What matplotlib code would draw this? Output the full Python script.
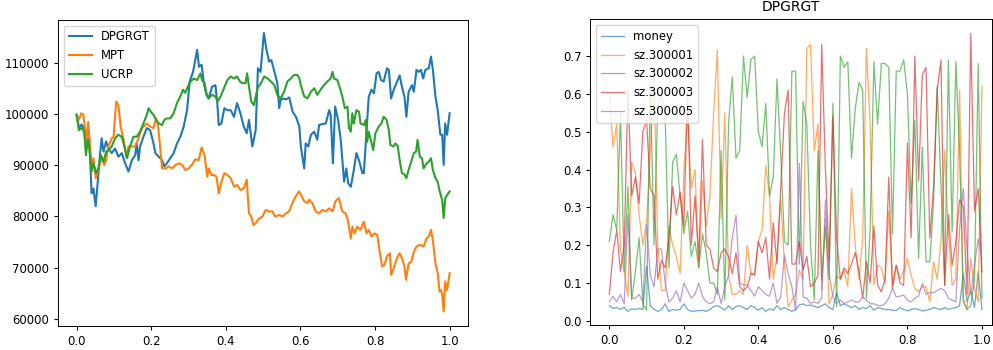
import numpy as np
import matplotlib
matplotlib.use("Agg")
import matplotlib.pyplot as plt

# ---------------- left panel: portfolio value ----------------
dp_x = [0, 0.006, 0.013, 0.022, 0.029, 0.034, 0.040, 0.045, 0.051, 0.057, 0.063, 0.067, 0.072, 0.079,
        0.085, 0.094, 0.103, 0.112, 0.121, 0.130, 0.139, 0.148, 0.157, 0.161, 0.166, 0.170, 0.179, 0.188,
        0.197, 0.206, 0.211, 0.220, 0.229, 0.235, 0.242, 0.251, 0.260, 0.269, 0.278, 0.287, 0.296, 0.303,
        0.312, 0.323, 0.328, 0.335, 0.341, 0.348, 0.354, 0.363, 0.372, 0.377, 0.381, 0.388, 0.396, 0.404,
        0.413, 0.422, 0.430, 0.439, 0.448, 0.456, 0.462, 0.471, 0.480, 0.486, 0.493, 0.502, 0.509, 0.516,
        0.522, 0.529, 0.538, 0.543, 0.547, 0.552, 0.561, 0.570, 0.579, 0.588, 0.597, 0.601, 0.610, 0.614,
        0.621, 0.628, 0.637, 0.645, 0.650, 0.659, 0.668, 0.677, 0.681, 0.687, 0.693, 0.701, 0.708, 0.717,
        0.723, 0.728, 0.735, 0.743, 0.750, 0.757, 0.766, 0.770, 0.777, 0.783, 0.790, 0.797, 0.804, 0.810,
        0.816, 0.823, 0.832, 0.837, 0.843, 0.850, 0.859, 0.866, 0.872, 0.879, 0.884, 0.890, 0.899, 0.904,
        0.911, 0.917, 0.923, 0.929, 0.935, 0.944, 0.950, 0.955, 0.962, 0.968, 0.975, 0.980, 0.984, 0.988,
        0.993, 1.0]
dp_y = [99900, 97300, 98000, 97000, 94300, 95300, 84500, 85500, 82000, 87200, 92400, 95300, 92700, 94700,
        93300, 92400, 93300, 91700, 92400, 90400, 88800, 91000, 92000, 94300, 91000, 93700, 95600, 97300,
        96900, 94300, 92400, 91700, 91000, 89800, 90400, 91400, 92400, 94300, 95600, 97600, 100800, 106400,
        108300, 112600, 109300, 109700, 106100, 103800, 103100, 105400, 105700, 102200, 97900, 98200, 101200, 100800,
        100800, 99500, 102200, 100200, 97600, 96300, 98900, 93700, 96900, 109000, 108300, 115900, 112600, 110300,
        110600, 108700, 106100, 101200, 102800, 103100, 102900, 103300, 100500, 99500, 97600, 93700, 89400, 94300,
        93700, 96000, 96600, 95000, 97900, 98100, 98200, 100800, 99900, 90400, 101500, 98900, 95000, 86800,
        89400, 86500, 85800, 89100, 92400, 91000, 88500, 88500, 96600, 103400, 104800, 104100, 108000, 108300,
        106700, 106400, 109000, 108700, 103100, 104800, 106400, 107600, 105400, 103400, 99500, 104400, 105700, 104400,
        108700, 108300, 108700, 107000, 108700, 109000, 111300, 108700, 103400, 100800, 96000, 96000, 90100, 98200,
        96000, 100200]

mpt_x = [0, 0.006, 0.012, 0.018, 0.022, 0.027, 0.031, 0.036, 0.040, 0.045, 0.051, 0.057, 0.063, 0.067,
         0.074, 0.079, 0.085, 0.094, 0.099, 0.106, 0.112, 0.118, 0.126, 0.133, 0.139, 0.148, 0.157, 0.166,
         0.175, 0.188, 0.197, 0.206, 0.213, 0.218, 0.222, 0.229, 0.238, 0.247, 0.256, 0.265, 0.274, 0.283,
         0.291, 0.300, 0.309, 0.318, 0.327, 0.335, 0.343, 0.350, 0.354, 0.361, 0.368, 0.375, 0.381, 0.387,
         0.396, 0.404, 0.413, 0.422, 0.430, 0.439, 0.448, 0.456, 0.462, 0.468, 0.474, 0.480, 0.489, 0.498,
         0.507, 0.516, 0.525, 0.532, 0.543, 0.552, 0.561, 0.570, 0.578, 0.587, 0.596, 0.601, 0.610, 0.619,
         0.623, 0.632, 0.641, 0.650, 0.659, 0.668, 0.677, 0.686, 0.694, 0.703, 0.712, 0.721, 0.727, 0.735,
         0.739, 0.745, 0.752, 0.761, 0.770, 0.777, 0.783, 0.790, 0.799, 0.806, 0.813, 0.819, 0.825, 0.832,
         0.840, 0.843, 0.850, 0.859, 0.866, 0.872, 0.879, 0.883, 0.890, 0.897, 0.904, 0.911, 0.917, 0.923,
         0.930, 0.938, 0.944, 0.950, 0.955, 0.962, 0.968, 0.973, 0.977, 0.980, 0.984, 0.988, 0.993, 1.0]
mpt_y = [99900, 98900, 100200, 99900, 97600, 95000, 98500, 93700, 89800, 91400, 87500, 89100, 90400, 91700,
         90100, 91000, 93700, 95300, 95600, 102500, 101800, 97600, 95000, 91700, 93700, 93700, 93700, 95300,
         97300, 98200, 97600, 97300, 99200, 97900, 95000, 89400, 89400, 89800, 89400, 90100, 90400, 90100,
         89100, 89400, 90100, 91200, 91000, 93500, 92000, 87800, 89400, 88100, 88100, 87800, 84500, 86500,
         88500, 88100, 87500, 85800, 86200, 85200, 85500, 87200, 80600, 80000, 78300, 78700, 79600, 80000,
         81300, 81000, 81000, 80000, 80300, 80000, 80600, 81000, 82600, 83900, 84900, 84300, 83000, 82600,
         83300, 82600, 81000, 80600, 81300, 81000, 81600, 81000, 83000, 83600, 81000, 80600, 79300, 75700,
         78000, 76700, 78000, 77400, 79000, 76700, 77400, 76100, 76700, 76400, 72800, 70200, 70500, 72200,
         72800, 68600, 69900, 71900, 72800, 71900, 70200, 67600, 70800, 71100, 73100, 74100, 74400, 74400,
         74100, 75700, 76100, 77400, 75400, 70800, 68900, 65300, 65600, 64700, 61400, 67300, 65600, 68900]

ucrp_x = [0, 0.006, 0.013, 0.020, 0.025, 0.030, 0.034, 0.040, 0.045, 0.052, 0.058, 0.065, 0.072, 0.079,
          0.085, 0.094, 0.103, 0.112, 0.121, 0.128, 0.135, 0.143, 0.152, 0.161, 0.170, 0.179, 0.188, 0.193,
          0.199, 0.206, 0.213, 0.220, 0.229, 0.235, 0.242, 0.251, 0.260, 0.269, 0.278, 0.285, 0.291, 0.298,
          0.305, 0.314, 0.323, 0.332, 0.336, 0.343, 0.348, 0.354, 0.363, 0.372, 0.378, 0.386, 0.395, 0.404,
          0.413, 0.422, 0.430, 0.438, 0.444, 0.453, 0.457, 0.462, 0.468, 0.475, 0.485, 0.494, 0.503, 0.512,
          0.521, 0.530, 0.538, 0.547, 0.556, 0.565, 0.574, 0.583, 0.592, 0.597, 0.601, 0.610, 0.619, 0.628,
          0.637, 0.645, 0.654, 0.663, 0.672, 0.681, 0.686, 0.690, 0.699, 0.706, 0.712, 0.719, 0.726, 0.730,
          0.735, 0.739, 0.743, 0.750, 0.757, 0.761, 0.770, 0.775, 0.779, 0.783, 0.790, 0.795, 0.801, 0.810,
          0.817, 0.823, 0.831, 0.837, 0.841, 0.849, 0.855, 0.861, 0.866, 0.872, 0.879, 0.884, 0.890, 0.898,
          0.904, 0.910, 0.914, 0.920, 0.926, 0.930, 0.938, 0.944, 0.950, 0.955, 0.962, 0.968, 0.973, 0.980,
          0.984, 0.988, 0.993, 1.0]
ucrp_y = [99900, 96900, 97300, 96600, 92000, 95000, 93300, 88800, 90400, 88500, 89400, 92000, 90700, 92700,
          93000, 93700, 95300, 96000, 95600, 93700, 91400, 93700, 95600, 95600, 96600, 98200, 99900, 101200,
          100500, 99900, 98900, 98200, 97900, 98900, 99200, 99200, 100200, 102200, 103500, 104800, 104200, 105400,
          106400, 107000, 106700, 108000, 106700, 106100, 104100, 103100, 103800, 103500, 102500, 103500, 105100, 106700,
          107400, 107000, 107400, 106400, 106100, 106100, 108000, 105400, 102500, 101800, 105100, 106100, 107400, 107000,
          106400, 105700, 103800, 103100, 104400, 106400, 107000, 107700, 107700, 107000, 105700, 103500, 103100, 104400,
          105100, 103800, 104800, 105700, 106400, 107000, 108300, 107000, 106700, 105100, 103500, 101200, 101500, 97300,
          96600, 100200, 98200, 100800, 100500, 98200, 97900, 98900, 94600, 96600, 94600, 93000, 96300, 97600,
          98200, 99500, 98900, 96900, 94000, 93700, 94300, 93700, 91000, 88500, 88200, 87500, 89100, 91000,
          92400, 92700, 95000, 91700, 91400, 89400, 90400, 90700, 91400, 89100, 87500, 86800, 85000, 83200,
          79700, 83500, 84200, 84900]

# ---------------- right panel: DPGRGT weights ----------------
w_labels = ["money", "sz.300001", "sz.300002", "sz.300003", "sz.300005"]
money = [0.040, 0.033, 0.035, 0.030, 0.036, 0.025, 0.032, 0.030, 0.033, 0.030,
         0.145, 0.040, 0.030, 0.025, 0.030, 0.045, 0.025, 0.030, 0.028, 0.030,
         0.045, 0.030, 0.025, 0.026, 0.027, 0.028, 0.025, 0.030, 0.038, 0.040,
         0.035, 0.028, 0.040, 0.030, 0.038, 0.040, 0.035, 0.030, 0.040, 0.035,
         0.028, 0.035, 0.025, 0.032, 0.028, 0.040, 0.030, 0.035, 0.030, 0.025,
         0.030, 0.042, 0.045, 0.040, 0.042, 0.038, 0.035, 0.040, 0.045, 0.035,
         0.030, 0.075, 0.040, 0.045, 0.040, 0.035, 0.040, 0.030, 0.035, 0.032,
         0.040, 0.028, 0.035, 0.033, 0.030, 0.030, 0.028, 0.027, 0.035, 0.030,
         0.026, 0.030, 0.032, 0.030, 0.026, 0.028, 0.030, 0.035, 0.032, 0.030,
         0.035, 0.030, 0.033, 0.035, 0.040, 0.125, 0.050, 0.080, 0.035, 0.130,
         0.030]
sz300001 = [0.60, 0.46, 0.52, 0.19, 0.13, 0.065, 0.42, 0.39, 0.28, 0.20,
            0.26, 0.45, 0.64, 0.20, 0.08, 0.08, 0.25, 0.20, 0.17, 0.125,
            0.39, 0.55, 0.35, 0.40, 0.14, 0.37, 0.25, 0.33, 0.55, 0.716,
            0.27, 0.55, 0.12, 0.07, 0.07, 0.08, 0.07, 0.20, 0.125, 0.125,
            0.21, 0.24, 0.41, 0.33, 0.11, 0.17, 0.32, 0.15, 0.037, 0.055,
            0.07, 0.134, 0.11, 0.72, 0.73, 0.45, 0.52, 0.08, 0.27, 0.045,
            0.07, 0.12, 0.11, 0.134, 0.09, 0.35, 0.20, 0.11, 0.22, 0.72,
            0.52, 0.094, 0.147, 0.14, 0.10, 0.29, 0.094, 0.147, 0.11, 0.13,
            0.165, 0.12, 0.085, 0.077, 0.09, 0.09, 0.05, 0.156, 0.11, 0.21,
            0.45, 0.235, 0.094, 0.11, 0.61, 0.06, 0.03, 0.165, 0.085, 0.05,
            0.62]
sz300002 = [0.21, 0.28, 0.24, 0.55, 0.13, 0.355, 0.055, 0.13, 0.22, 0.045,
            0.028, 0.63, 0.20, 0.57, 0.60, 0.54, 0.14, 0.42, 0.44, 0.33,
            0.23, 0.29, 0.17, 0.21, 0.14, 0.23, 0.18, 0.10, 0.10, 0.07,
            0.45, 0.055, 0.52, 0.645, 0.43, 0.45, 0.70, 0.59, 0.69, 0.70,
            0.50, 0.46, 0.575, 0.33, 0.38, 0.64, 0.44, 0.21, 0.20, 0.66,
            0.66, 0.15, 0.58, 0.52, 0.20, 0.055, 0.45, 0.11, 0.25, 0.11,
            0.575, 0.037, 0.70, 0.67, 0.685, 0.43, 0.56, 0.63, 0.61, 0.06,
            0.24, 0.685, 0.52, 0.68, 0.68, 0.67, 0.23, 0.66, 0.66, 0.69,
            0.60, 0.31, 0.53, 0.165, 0.46, 0.156, 0.156, 0.31, 0.62, 0.36,
            0.094, 0.69, 0.235, 0.685, 0.45, 0.05, 0.03, 0.04, 0.11, 0.68,
            0.06]
sz300003 = [0.07, 0.18, 0.24, 0.13, 0.20, 0.61, 0.33, 0.38, 0.31, 0.50,
            0.53, 0.35, 0.33, 0.11, 0.16, 0.14, 0.22, 0.355, 0.28, 0.34,
            0.25, 0.61, 0.20, 0.33, 0.16, 0.48, 0.20, 0.19, 0.14, 0.13,
            0.18, 0.19, 0.17, 0.125, 0.18, 0.09, 0.08, 0.09, 0.125, 0.12,
            0.21, 0.18, 0.22, 0.11, 0.26, 0.15, 0.35, 0.55, 0.61, 0.15,
            0.15, 0.21, 0.134, 0.17, 0.09, 0.10, 0.12, 0.73, 0.40, 0.16,
            0.54, 0.22, 0.11, 0.14, 0.125, 0.15, 0.18, 0.13, 0.06, 0.156,
            0.10, 0.25, 0.094, 0.077, 0.11, 0.38, 0.085, 0.147, 0.10, 0.094,
            0.47, 0.22, 0.70, 0.37, 0.65, 0.67, 0.22, 0.35, 0.61, 0.69,
            0.094, 0.28, 0.147, 0.21, 0.32, 0.30, 0.07, 0.76, 0.29, 0.35,
            0.13]
sz300005 = [0.05, 0.065, 0.05, 0.07, 0.045, 0.28, 0.06, 0.06, 0.07, 0.05,
            0.255, 0.12, 0.09, 0.19, 0.19, 0.10, 0.05, 0.06, 0.08, 0.05,
            0.10, 0.08, 0.06, 0.07, 0.10, 0.065, 0.05, 0.045, 0.05, 0.09,
            0.045, 0.09, 0.12, 0.22, 0.28, 0.10, 0.095, 0.095, 0.08, 0.065,
            0.09, 0.08, 0.07, 0.065, 0.10, 0.046, 0.063, 0.174, 0.125, 0.09,
            0.028, 0.416, 0.063, 0.06, 0.046, 0.05, 0.046, 0.06, 0.32, 0.125,
            0.063, 0.046, 0.055, 0.046, 0.05, 0.055, 0.05, 0.05, 0.063, 0.055,
            0.045, 0.045, 0.041, 0.04, 0.045, 0.06, 0.086, 0.063, 0.065, 0.068,
            0.055, 0.05, 0.06, 0.065, 0.099, 0.07, 0.075, 0.074, 0.08, 0.086,
            0.08, 0.06, 0.055, 0.05, 0.244, 0.35, 0.187, 0.07, 0.147, 0.217,
            0.165]
w_x = np.linspace(0, 1, len(money))

FS = 8.4
plt.rcParams['font.family'] = ['DejaVu Sans']
plt.rcParams['font.size'] = FS
plt.rcParams['xtick.major.size'] = 2.9
plt.rcParams['ytick.major.size'] = 2.9
plt.rcParams['axes.linewidth'] = 0.7

fig = plt.figure(figsize=(9.93, 3.5), dpi=100)
ax1 = fig.add_axes([58 / 993, 24.3 / 350, 410.3 / 993, 305.7 / 350])
ax2 = fig.add_axes([590.3 / 993, 25 / 350, 401.7 / 993, 305.7 / 350])

ax1.plot(dp_x, dp_y, color='C0', lw=1.5, label='DPGRGT')
ax1.plot(mpt_x, mpt_y, color='C1', lw=1.5, label='MPT')
ax1.plot(ucrp_x, ucrp_y, color='C2', lw=1.5, label='UCRP')
ax1.set_xlim(-0.05, 1.05)
ax1.set_ylim(58630, 118450)
ax1.set_xticks([0.0, 0.2, 0.4, 0.6, 0.8, 1.0])
ax1.set_yticks([60000, 70000, 80000, 90000, 100000, 110000])
ax1.tick_params(labelsize=FS)
ax1.legend(loc='upper left', fontsize=FS)

for series, lab, col in zip([money, sz300001, sz300002, sz300003, sz300005], w_labels,
                            ['C0', 'C1', 'C2', 'C3', 'C4']):
    ax2.plot(w_x, series, color=col, lw=0.9, alpha=0.65, label=lab)
ax2.set_xlim(-0.051, 1.027)
ax2.set_ylim(-0.011, 0.797)
ax2.set_xticks([0.0, 0.2, 0.4, 0.6, 0.8, 1.0])
ax2.set_yticks([0.0, 0.1, 0.2, 0.3, 0.4, 0.5, 0.6, 0.7])
ax2.tick_params(labelsize=FS)
ax2.set_title('DPGRGT', fontsize=10)
ax2.legend(loc='upper left', fontsize=FS)

fig.savefig('out.png', dpi=100)
